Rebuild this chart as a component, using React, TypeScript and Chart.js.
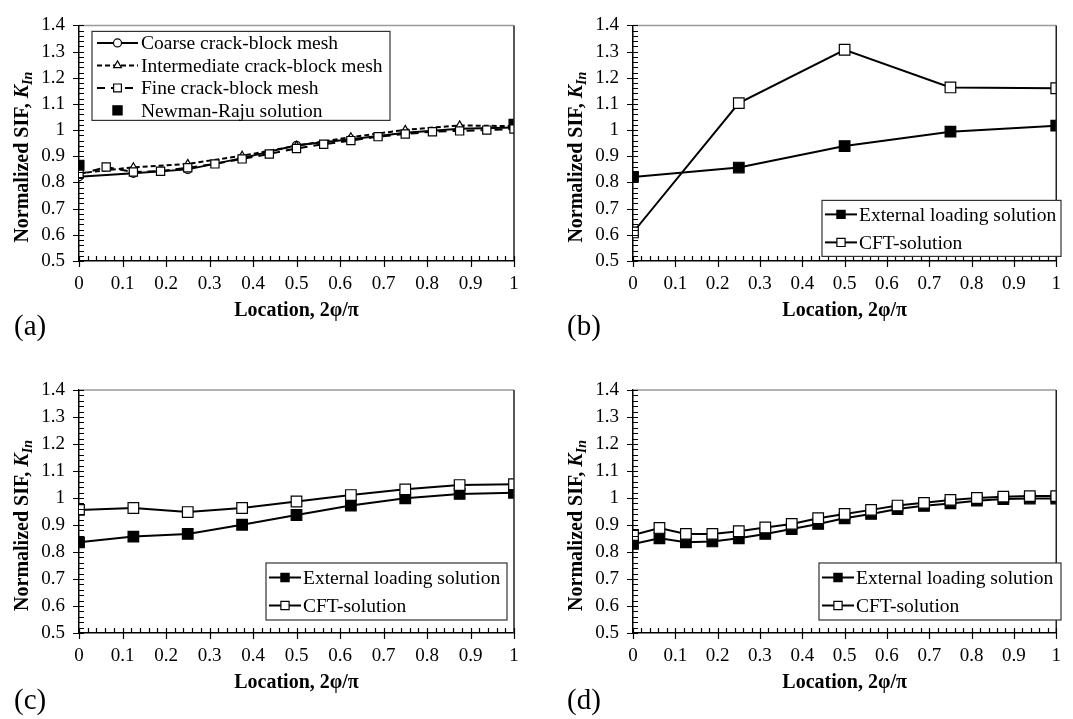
import React, { useEffect, useRef } from "react";
import { Chart, registerables } from "chart.js";

Chart.register(...registerables);

const SERIF = "'Liberation Serif', 'Times New Roman', Times, serif";
const PAGE_W = 1073;
const PAGE_H = 719;

// ---------- shared axes ----------
const xTickValues = [0, 0.1, 0.2, 0.3, 0.4, 0.5, 0.6, 0.7, 0.8, 0.9, 1];
const xTickLabels = ["0", "0.1", "0.2", "0.3", "0.4", "0.5", "0.6", "0.7", "0.8", "0.9", "1"];
const yTickValues = [0.5, 0.6, 0.7, 0.8, 0.9, 1.0, 1.1, 1.2, 1.3, 1.4];
const yTickLabels = ["0.5", "0.6", "0.7", "0.8", "0.9", "1", "1.1", "1.2", "1.3", "1.4"];
const xTitle = "Location, 2φ/π";
const yTitleMain = "Normalized SIF, ";
const yTitleVar = "K";
const yTitleSub = "In";

// ---------- panel (a) ----------
const locCoarse = [0, 0.125, 0.25, 0.375, 0.5, 0.625, 0.75, 0.875, 1];
const coarseMesh = [0.822, 0.835, 0.85, 0.893, 0.942, 0.965, 0.99, 1.005, 1.01];
const locIntermediate = [0, 0.125, 0.25, 0.375, 0.5, 0.625, 0.75, 0.875, 1];
const intermediateMesh = [0.835, 0.858, 0.871, 0.902, 0.94, 0.973, 1.001, 1.018, 1.015];
const locFine = [0, 0.0625, 0.125, 0.1875, 0.25, 0.3125, 0.375, 0.4375, 0.5, 0.5625, 0.625, 0.6875, 0.75, 0.8125, 0.875, 0.9375, 1];
const fineMesh = [0.831, 0.859, 0.84, 0.843, 0.856, 0.871, 0.89, 0.909, 0.93, 0.946, 0.96, 0.975, 0.985, 0.994, 0.997, 1.0, 1.004];
const locNewmanRaju = [0, 1];
const newmanRaju = [0.866, 1.022];

// ---------- panel (b) ----------
const locB = [0, 0.25, 0.5, 0.75, 1];
const externalB = [0.821, 0.857, 0.939, 0.994, 1.017];
const cftB = [0.609, 1.103, 1.307, 1.163, 1.16];

// ---------- panel (c) ----------
const locC = [0, 0.125, 0.25, 0.375, 0.5, 0.625, 0.75, 0.875, 1];
const externalC = [0.836, 0.857, 0.867, 0.901, 0.937, 0.972, 0.999, 1.015, 1.019];
const cftC = [0.956, 0.963, 0.948, 0.963, 0.987, 1.011, 1.032, 1.048, 1.051];

// ---------- panel (d) ----------
const locD = [0, 0.0625, 0.125, 0.1875, 0.25, 0.3125, 0.375, 0.4375, 0.5, 0.5625, 0.625, 0.6875, 0.75, 0.8125, 0.875, 0.9375, 1];
const externalD = [0.83, 0.851, 0.836, 0.839, 0.851, 0.867, 0.885, 0.904, 0.925, 0.941, 0.959, 0.971, 0.98, 0.99, 0.996, 0.998, 0.998];
const cftD = [0.863, 0.889, 0.867, 0.867, 0.877, 0.891, 0.904, 0.925, 0.941, 0.956, 0.972, 0.982, 0.993, 1.0, 1.005, 1.007, 1.007];

const labelExternal = "External loading solution";
const labelCFT = "CFT-solution";

const pts = (xs: number[], ys: number[]) => xs.map((x, i) => ({ x, y: ys[i] }));

type DS = {
  label: string;
  data: { x: number; y: number }[];
  dash: number[];
  showLine: boolean;
  style: "circle" | "triangle" | "rect";
  radius: number;
  legendRadius: number;
  fill: string;
  order: number;
  lineWidth: number;
};

function toDataset(d: DS) {
  return {
    label: d.label,
    data: d.data,
    showLine: d.showLine,
    borderColor: "#000",
    borderWidth: d.lineWidth,
    borderDash: d.dash,
    tension: 0,
    fill: false,
    pointStyle: d.style,
    pointRadius: d.radius,
    pointBackgroundColor: d.fill,
    pointBorderColor: "#000",
    pointBorderWidth: 1.2,
    order: d.order,
  };
}

type LegendSpec = {
  left: number;
  top: number;
  width: number;
  height: number;
  row0: number;
  rowGap: number;
  lineX0: number;
  lineX1: number;
  markX: number;
  textX: number;
};

type PanelSpec = {
  area: { left: number; top: number; right: number; bottom: number };
  series: DS[];
  legend: LegendSpec;
  tag: string;
  tagPos: { left: number; top: number };
};

const Y_AXIS_W = 60;
const X_AXIS_H = 70;

function drawMarker(ctx: CanvasRenderingContext2D, style: string, cx: number, cy: number, r: number, fill: string) {
  ctx.save();
  ctx.setLineDash([]);
  ctx.lineWidth = 1.2;
  ctx.strokeStyle = "#000";
  ctx.fillStyle = fill;
  ctx.beginPath();
  if (style === "circle") {
    ctx.arc(cx, cy, r, 0, Math.PI * 2);
  } else if (style === "triangle") {
    const h = r * 1.5;
    const half = (r * Math.sqrt(3)) / 2;
    ctx.moveTo(cx, cy - r);
    ctx.lineTo(cx + half, cy - r + h);
    ctx.lineTo(cx - half, cy - r + h);
    ctx.closePath();
  } else {
    const s = r * Math.SQRT1_2;
    ctx.rect(cx - s, cy - s, 2 * s, 2 * s);
  }
  ctx.fill();
  ctx.stroke();
  ctx.restore();
}

function buildConfig(spec: PanelSpec): any {
  const { left, top, right, bottom } = spec.area;

  const axisDecor = {
    id: "axisDecor",
    afterDraw(chart: any) {
      const ctx: CanvasRenderingContext2D = chart.ctx;
      const ca = chart.chartArea;
      const xs = chart.scales.x;
      const ys = chart.scales.y;
      ctx.save();
      ctx.lineWidth = 1.5;
      ctx.strokeStyle = "#9a9a9a";
      ctx.beginPath();
      ctx.moveTo(ca.left, ca.top);
      ctx.lineTo(ca.right, ca.top);
      ctx.stroke();
      ctx.strokeStyle = "#222";
      ctx.beginPath();
      ctx.moveTo(ca.right, ca.top);
      ctx.lineTo(ca.right, ca.bottom);
      ctx.stroke();
      ctx.strokeStyle = "#000";
      ctx.lineWidth = 1.2;
      ctx.beginPath();
      for (let k = 0; k <= 45; k++) {
        const v = 0.5 + k * 0.02;
        const py = Math.round(ys.getPixelForValue(v)) + 0.5;
        const major = k % 5 === 0;
        ctx.moveTo(ca.left - (major ? 6 : 0), py);
        ctx.lineTo(ca.left + 5, py);
      }
      for (let k = 0; k <= 50; k++) {
        const v = k * 0.02;
        const px = Math.round(xs.getPixelForValue(v)) + 0.5;
        const major = k % 5 === 0;
        ctx.moveTo(px, ca.bottom + (major ? 6 : 0));
        ctx.lineTo(px, ca.bottom - 5);
      }
      ctx.stroke();
      ctx.restore();
    },
  };

  const yTitlePlugin = {
    id: "yTitleRich",
    afterDraw(chart: any) {
      const ctx: CanvasRenderingContext2D = chart.ctx;
      const ca = chart.chartArea;
      const cx = ca.left - 58;
      const cy = (ca.top + ca.bottom) / 2 + 14;
      const fMain = `bold 20px ${SERIF}`;
      const fVar = `italic bold 20px ${SERIF}`;
      const fSub = `italic bold 14px ${SERIF}`;
      ctx.save();
      ctx.fillStyle = "#000";
      ctx.textBaseline = "alphabetic";
      ctx.font = fMain;
      const w1 = ctx.measureText(yTitleMain).width;
      ctx.font = fVar;
      const w2 = ctx.measureText(yTitleVar).width;
      ctx.font = fSub;
      const w3 = ctx.measureText(yTitleSub).width;
      const total = w1 + w2 + w3;
      ctx.translate(cx, cy);
      ctx.rotate(-Math.PI / 2);
      let x0 = -total / 2;
      const base = 7;
      ctx.font = fMain;
      ctx.fillText(yTitleMain, x0, base);
      x0 += w1;
      ctx.font = fVar;
      ctx.fillText(yTitleVar, x0, base);
      x0 += w2;
      ctx.font = fSub;
      ctx.fillText(yTitleSub, x0, base + 4);
      ctx.restore();
    },
  };

  const boxLegend = {
    id: "boxLegend",
    afterDraw(chart: any) {
      const ctx: CanvasRenderingContext2D = chart.ctx;
      const ca = chart.chartArea;
      const L = spec.legend;
      const bx = ca.left + L.left;
      const by = ca.top + L.top;
      ctx.save();
      ctx.fillStyle = "#fff";
      ctx.fillRect(bx, by, L.width, L.height);
      ctx.strokeStyle = "#333";
      ctx.lineWidth = 1.2;
      ctx.strokeRect(bx, by, L.width, L.height);
      ctx.font = `19.5px ${SERIF}`;
      ctx.textBaseline = "middle";
      spec.series.forEach((s, i) => {
        const ry = by + L.row0 + i * L.rowGap;
        if (s.showLine) {
          ctx.save();
          ctx.strokeStyle = "#000";
          ctx.lineWidth = s.lineWidth;
          ctx.setLineDash(s.dash);
          ctx.beginPath();
          ctx.moveTo(bx + L.lineX0, ry);
          ctx.lineTo(bx + L.lineX1, ry);
          ctx.stroke();
          ctx.restore();
        }
        drawMarker(ctx, s.style, bx + L.markX, ry, s.legendRadius, s.fill);
        ctx.fillStyle = "#000";
        ctx.fillText(s.label, bx + L.textX, ry + 1);
      });
      ctx.restore();
    },
  };

  const tickFont = { family: SERIF, size: 19 };

  return {
    type: "line",
    data: { datasets: spec.series.map(toDataset) },
    options: {
      responsive: false,
      animation: false,
      events: [],
      layout: {
        padding: {
          left: left - Y_AXIS_W,
          top: top,
          right: PAGE_W - right,
          bottom: PAGE_H - bottom - X_AXIS_H,
        },
      },
      plugins: {
        legend: { display: false },
        tooltip: { enabled: false },
      },
      scales: {
        x: {
          type: "linear",
          min: 0,
          max: 1,
          afterBuildTicks: (s: any) => {
            s.ticks = xTickValues.map((v) => ({ value: v }));
          },
          afterFit: (s: any) => {
            s.height = X_AXIS_H;
          },
          grid: { display: false, drawTicks: false },
          border: { display: true, color: "#000", width: 1.5 },
          ticks: {
            padding: 12,
            color: "#000",
            font: tickFont,
            autoSkip: false,
            maxRotation: 0,
            callback: (_v: any, i: number) => xTickLabels[i],
          },
          title: {
            display: true,
            text: xTitle,
            color: "#000",
            font: { family: SERIF, size: 20, weight: "bold" },
            padding: { top: 0, bottom: 8 },
          },
        },
        y: {
          type: "linear",
          min: 0.5,
          max: 1.4,
          afterBuildTicks: (s: any) => {
            s.ticks = yTickValues.map((v) => ({ value: v }));
          },
          afterFit: (s: any) => {
            s.width = Y_AXIS_W;
          },
          grid: { display: false, drawTicks: false },
          border: { display: true, color: "#000", width: 1.5 },
          ticks: {
            padding: 14,
            color: "#000",
            font: tickFont,
            autoSkip: false,
            callback: (_v: any, i: number) => yTickLabels[i],
          },
        },
      },
    },
    plugins: [axisDecor, boxLegend, yTitlePlugin],
  };
}

const solidLine = { dash: [] as number[], showLine: true, lineWidth: 2 };

const panelA: PanelSpec = {
  area: { left: 79, top: 18, right: 514, bottom: 261 },
  series: [
    { label: "Coarse crack-block mesh", data: pts(locCoarse, coarseMesh), ...solidLine, style: "circle", radius: 4, legendRadius: 4, fill: "#fff", order: 3 },
    { label: "Intermediate crack-block mesh", data: pts(locIntermediate, intermediateMesh), dash: [5, 3], showLine: true, lineWidth: 2, style: "triangle", radius: 4.5, legendRadius: 4.5, fill: "#fff", order: 2 },
    { label: "Fine crack-block mesh", data: pts(locFine, fineMesh), dash: [8, 6], showLine: true, lineWidth: 2, style: "rect", radius: 5.8, legendRadius: 5.5, fill: "#fff", order: 0 },
    { label: "Newman-Raju solution", data: pts(locNewmanRaju, newmanRaju), dash: [], showLine: false, lineWidth: 2, style: "rect", radius: 7, legendRadius: 6.5, fill: "#000", order: 1 },
  ],
  legend: { left: 13, top: 6, width: 298, height: 89, row0: 11.5, rowGap: 22.5, lineX0: 5, lineX1: 46, markX: 25.5, textX: 49 },
  tag: "(a)",
  tagPos: { left: 14, top: 311 },
};

const panelB: PanelSpec = {
  area: { left: 633, top: 18, right: 1067, bottom: 261 },
  series: [
    { label: labelExternal, data: pts(locB, externalB), ...solidLine, style: "rect", radius: 7.5, legendRadius: 5.8, fill: "#000", order: 1 },
    { label: labelCFT, data: pts(locB, cftB), ...solidLine, style: "rect", radius: 7.5, legendRadius: 5.8, fill: "#fff", order: 0 },
  ],
  legend: { left: 189, top: 175, width: 239, height: 56, row0: 14, rowGap: 28, lineX0: 3, lineX1: 35, markX: 19, textX: 37 },
  tag: "(b)",
  tagPos: { left: 567, top: 311 },
};

const panelC: PanelSpec = {
  area: { left: 79, top: 390, right: 514, bottom: 633 },
  series: [
    { label: labelExternal, data: pts(locC, externalC), ...solidLine, style: "rect", radius: 7.5, legendRadius: 5.8, fill: "#000", order: 1 },
    { label: labelCFT, data: pts(locC, cftC), ...solidLine, style: "rect", radius: 7.5, legendRadius: 5.8, fill: "#fff", order: 0 },
  ],
  legend: { left: 187, top: 173, width: 241, height: 57, row0: 14.5, rowGap: 28, lineX0: 3, lineX1: 35, markX: 19, textX: 37 },
  tag: "(c)",
  tagPos: { left: 14, top: 685 },
};

const panelD: PanelSpec = {
  area: { left: 633, top: 390, right: 1067, bottom: 633 },
  series: [
    { label: labelExternal, data: pts(locD, externalD), ...solidLine, style: "rect", radius: 7.5, legendRadius: 5.8, fill: "#000", order: 1 },
    { label: labelCFT, data: pts(locD, cftD), ...solidLine, style: "rect", radius: 7.5, legendRadius: 5.8, fill: "#fff", order: 0 },
  ],
  legend: { left: 186, top: 173, width: 242, height: 57, row0: 14.5, rowGap: 28, lineX0: 3, lineX1: 35, markX: 19, textX: 37 },
  tag: "(d)",
  tagPos: { left: 567, top: 685 },
};

const panels = [panelA, panelB, panelC, panelD];

function Panel({ spec }: { spec: PanelSpec }) {
  const ref = useRef<HTMLCanvasElement | null>(null);
  useEffect(() => {
    if (!ref.current) return;
    const chart = new Chart(ref.current, buildConfig(spec));
    return () => chart.destroy();
  }, [spec]);
  return (
    <>
      <canvas
        ref={ref}
        width={PAGE_W}
        height={PAGE_H}
        style={{ position: "absolute", left: 0, top: 0, width: PAGE_W, height: PAGE_H }}
      />
      <div
        style={{
          position: "absolute",
          left: spec.tagPos.left,
          top: spec.tagPos.top,
          fontFamily: SERIF,
          fontSize: 29,
          lineHeight: "29px",
          color: "#000",
          whiteSpace: "nowrap",
        }}
      >
        {spec.tag}
      </div>
    </>
  );
}

export default function App() {
  return (
    <div
      style={{
        position: "absolute",
        left: 0,
        top: 0,
        width: PAGE_W,
        height: PAGE_H,
        background: "#fff",
        overflow: "hidden",
      }}
    >
      {panels.map((p) => (
        <Panel key={p.tag} spec={p} />
      ))}
    </div>
  );
}
